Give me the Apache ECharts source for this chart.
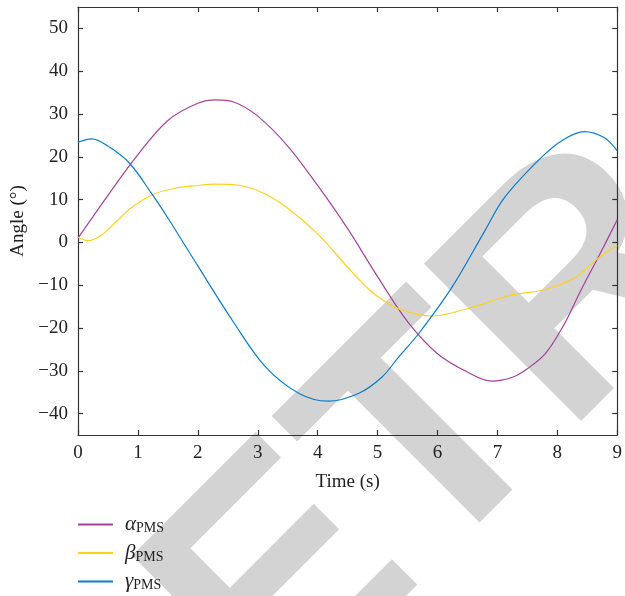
<!DOCTYPE html>
<html lang="en">
<head>
    <meta charset="UTF-8">
    <script type="text/javascript" src="https://cdn.jsdelivr.net/npm/echarts@6/dist/echarts.min.js"></script>
</head>
<body style="margin:0">
<div id="chart" style="width: 625px;height: 596px"></div>
<script type="text/javascript">
    // values
    var alphaT = [0, 0.5, 1, 1.5, 2, 2.3, 2.6, 3, 3.5, 4, 4.5, 5, 5.5, 6, 6.5, 6.9, 7.25, 7.5, 7.8, 8.1, 8.4, 8.7, 9];
    var alphaV = [1.0, 11.0, 20.5, 28.5, 32.5, 33.3, 32.8, 29.5, 22.5, 13.3, 3.2, -8.0, -18.5, -26.0, -30.3, -32.4, -31.5, -29.5, -26.0, -19.5, -11.0, -3.0, 5.3];
    var betaT = [0, 0.17, 0.4, 0.65, 0.9, 1.25, 1.6, 2.0, 2.3, 2.7, 3.1, 3.5, 4.0, 4.5, 4.85, 5.1, 5.4, 5.9, 6.5, 7.2, 7.8, 8.3, 8.7, 9];
    var betaV = [1.2, 0.4, 1.8, 5.0, 8.2, 11.2, 12.6, 13.3, 13.6, 13.3, 11.5, 8.0, 2.0, -5.8, -10.9, -13.6, -15.8, -17.2, -15.5, -12.4, -11.0, -8.2, -3.5, -0.8];
    var gammaT = [0, 0.23, 0.5, 0.86, 1.23, 1.5, 2.0, 2.58, 3.13, 3.69, 4.18, 4.68, 5.07, 5.35, 5.68, 6.24, 6.79, 7.12, 7.73, 8.1, 8.45, 8.78, 9];
    var gammaV = [23.4, 24.2, 22.5, 18.5, 11.4, 5.7, -5.5, -18.3, -29.1, -35.3, -37.1, -35.3, -31.5, -26.8, -21.4, -10.5, 2.7, 10.5, 19.8, 24.0, 25.9, 24.5, 21.4];
    var yTicks = [-40, -30, -20, -10, 0, 10, 20, 30, 40, 50];
    var names = ['alpha', 'beta', 'gamma'];
    var greek = {alpha: '\u03b1', beta: '\u03b2', gamma: '\u03b3'};
    var colors = ['#a3429b', '#fdd11b', '#0b7cc9'];

    function pairs(t, v) {
        var out = [];
        for (var i = 0; i < t.length; i++) out.push([t[i], v[i]]);
        return out;
    }

    var font = 'Liberation Serif';
    var axisLine = {onZero: false, lineStyle: {color: '#333', width: 1.2}};
    var tickStyle = {color: '#333', width: 1.2};

    function line(name, t, v, c) {
        return {
            name: name, type: 'line', data: pairs(t, v), smooth: 0.35,
            showSymbol: false, lineStyle: {color: c, width: 1.2}, itemStyle: {color: c}
        };
    }

    var chart = echarts.init(document.getElementById('chart'));
    chart.setOption({
        animation: false,
        grid: {left: 78, right: 5, top: 7, bottom: 161},
        // retraction stamp behind the plot
        graphic: [{
            type: 'text', x: 46, y: 830, rotation: Math.PI / 4, z: -10, silent: true,
            style: {
                text: 'RETRACTED', fill: '#d3d3d3', fontSize: 323, fontWeight: 'bold',
                fontFamily: 'Liberation Sans', align: 'left', verticalAlign: 'middle'
            }
        }],
        legend: {
            orient: 'vertical', left: 78, top: 514, padding: 0, height: 84,
            itemWidth: 35, itemHeight: 2, itemGap: 7,
            icon: 'rect', data: names,
            formatter: function (n) { return '{g|' + greek[n] + '}{s|PMS}'; },
            textStyle: {
                padding: [0, 0, 0, 7],
                rich: {
                    g: {fontFamily: font, fontStyle: 'italic', fontSize: 21, color: '#222', lineHeight: 22, verticalAlign: 'middle'},
                    s: {fontFamily: font, fontSize: 14, color: '#222', lineHeight: 10, verticalAlign: 'bottom'}
                }
            }
        },
        xAxis: [{
            type: 'value', min: 0, max: 9, interval: 1,
            name: 'Time (s)', nameLocation: 'middle', nameGap: 38,
            nameTextStyle: {fontFamily: font, fontSize: 19, color: '#222'},
            axisLine: axisLine, splitLine: {show: false},
            axisTick: {inside: true, length: 5, lineStyle: tickStyle},
            axisLabel: {fontFamily: font, fontSize: 19, color: '#222', margin: 9}
        }, {
            type: 'value', min: 0, max: 9, interval: 1, position: 'top',
            axisLine: axisLine, splitLine: {show: false},
            axisTick: {inside: true, length: 5, lineStyle: tickStyle},
            axisLabel: {show: false}
        }],
        yAxis: [{
            type: 'value', min: -45, max: 55,
            name: 'Angle (\u00b0)', nameLocation: 'middle', nameGap: 47,
            nameTextStyle: {fontFamily: font, fontSize: 19, color: '#222'},
            axisLine: axisLine, splitLine: {show: false},
            axisTick: {inside: true, length: 5, customValues: yTicks, lineStyle: tickStyle},
            axisLabel: {
                fontFamily: font, fontSize: 19, color: '#222', margin: 10, customValues: yTicks,
                formatter: function (v) { return String(v).replace('-', '\u2212'); }
            }
        }, {
            type: 'value', min: -45, max: 55, position: 'right',
            axisLine: axisLine, splitLine: {show: false},
            axisTick: {inside: true, length: 5, customValues: yTicks, lineStyle: tickStyle},
            axisLabel: {show: false, customValues: yTicks}
        }],
        series: [
            line('alpha', alphaT, alphaV, colors[0]),
            line('beta', betaT, betaV, colors[1]),
            line('gamma', gammaT, gammaV, colors[2])
        ]
    });
</script>
</body>
</html>
